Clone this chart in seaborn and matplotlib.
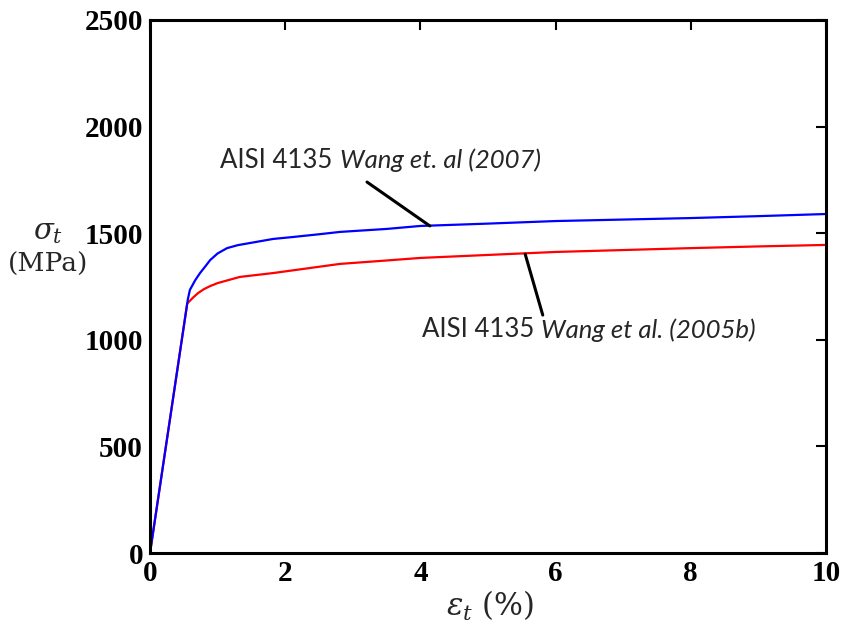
import matplotlib
matplotlib.use("Agg")
import matplotlib.pyplot as plt
import seaborn as sns
import pandas as pd

# Data
strain_2007 = [0.0, 0.56, 0.59, 0.67, 0.74, 0.82, 0.89, 1.0, 1.14, 1.3, 1.48, 1.82, 2.11, 2.5, 2.81, 3.5, 4.0, 5.0, 6.0, 7.0, 8.0, 9.0, 10.0]
stress_2007 = [0, 1190, 1234, 1280, 1313, 1345, 1374, 1405, 1430, 1444, 1454, 1473, 1482, 1495, 1506, 1520, 1534, 1545, 1557, 1564, 1571, 1580, 1590]
strain_2005 = [0.0, 0.55, 0.63, 0.71, 0.8, 0.89, 1.0, 1.33, 1.82, 2.81, 3.5, 4.0, 5.0, 6.0, 7.0, 8.0, 9.0, 10.0]
stress_2005 = [0, 1170, 1196, 1219, 1238, 1252, 1266, 1295, 1313, 1356, 1372, 1384, 1398, 1412, 1421, 1430, 1438, 1445]
x_ticks = [0, 2, 4, 6, 8, 10]
y_ticks = [0, 500, 1000, 1500, 2000, 2500]

df = pd.concat([
    pd.DataFrame({"strain": strain_2007, "stress": stress_2007, "src": "2007"}),
    pd.DataFrame({"strain": strain_2005, "stress": stress_2005, "src": "2005b"}),
])

sns.set_style("white")
plt.rcParams["mathtext.fontset"] = "dejavuserif"
fig = plt.figure(figsize=(8.46, 6.33), dpi=100)
ax = fig.add_axes([150/846, 1-553/633, 676/846, 533/633])

sns.lineplot(data=df[df.src == "2005b"], x="strain", y="stress", color="#ff0000",
             linewidth=1.6, ax=ax, legend=False, sort=False)
sns.lineplot(data=df[df.src == "2007"], x="strain", y="stress", color="#0000ff",
             linewidth=1.6, ax=ax, legend=False, sort=False)

ax.set_xlim(0, 10)
ax.set_ylim(0, 2500)
ax.set_xticks(x_ticks)
ax.set_yticks(y_ticks)
ax.set_xticklabels([str(t) for t in x_ticks], fontfamily="Liberation Serif",
                   fontweight="bold", fontsize=21)
ax.set_yticklabels([str(t) for t in y_ticks], fontfamily="Liberation Serif",
                   fontweight="bold", fontsize=21)
ax.tick_params(axis="both", direction="in", length=7, width=1.5, top=True, right=True,
               colors="black")
ax.tick_params(axis="y", pad=5)
ax.tick_params(axis="x", pad=5)
for s in ax.spines.values():
    s.set_visible(True)
    s.set_linewidth(2.2)
    s.set_color("black")

ax.set_xlabel("")
ax.set_ylabel("")
fig.text(490/846, 1-606/633, r"$\varepsilon_t$ (%)", ha="center", va="center",
         fontsize=22, family="DejaVu Serif")
fig.text(48/846, 1-232/633, r"$\sigma_t$", ha="center", va="center",
         fontsize=21, family="DejaVu Serif")
fig.text(48/846, 1-264/633, "(MPa)", ha="center", va="center",
         fontsize=19, family="DejaVu Serif")

# Annotation 1 (2007)
ax.annotate("", xy=(4.14, 1534), xytext=(3.21, 1740),
            arrowprops=dict(arrowstyle="-", color="black", lw=2.2,
                            shrinkA=0, shrinkB=0))
t1 = ax.text(1.04, 1843, "AISI 4135", ha="left", va="center", fontsize=18.5,
             family="Lato")
ax.annotate("Wang et. al (2007)", xy=(1, 0.5), xycoords=t1,
            xytext=(5, 0), textcoords="offset points", ha="left", va="center",
            fontsize=18.5, family="Lato", style="italic")

# Annotation 2 (2005b)
ax.annotate("", xy=(5.55, 1402), xytext=(5.81, 1116),
            arrowprops=dict(arrowstyle="-", color="black", lw=2.2,
                            shrinkA=0, shrinkB=0))
t2 = ax.text(4.02, 1046, "AISI 4135", ha="left", va="center", fontsize=18.5,
             family="Lato")
ax.annotate("Wang et al. (2005b)", xy=(1, 0.5), xycoords=t2,
            xytext=(5, 0), textcoords="offset points", ha="left", va="center",
            fontsize=18.5, family="Lato", style="italic")

fig.savefig("out.png", dpi=100)
